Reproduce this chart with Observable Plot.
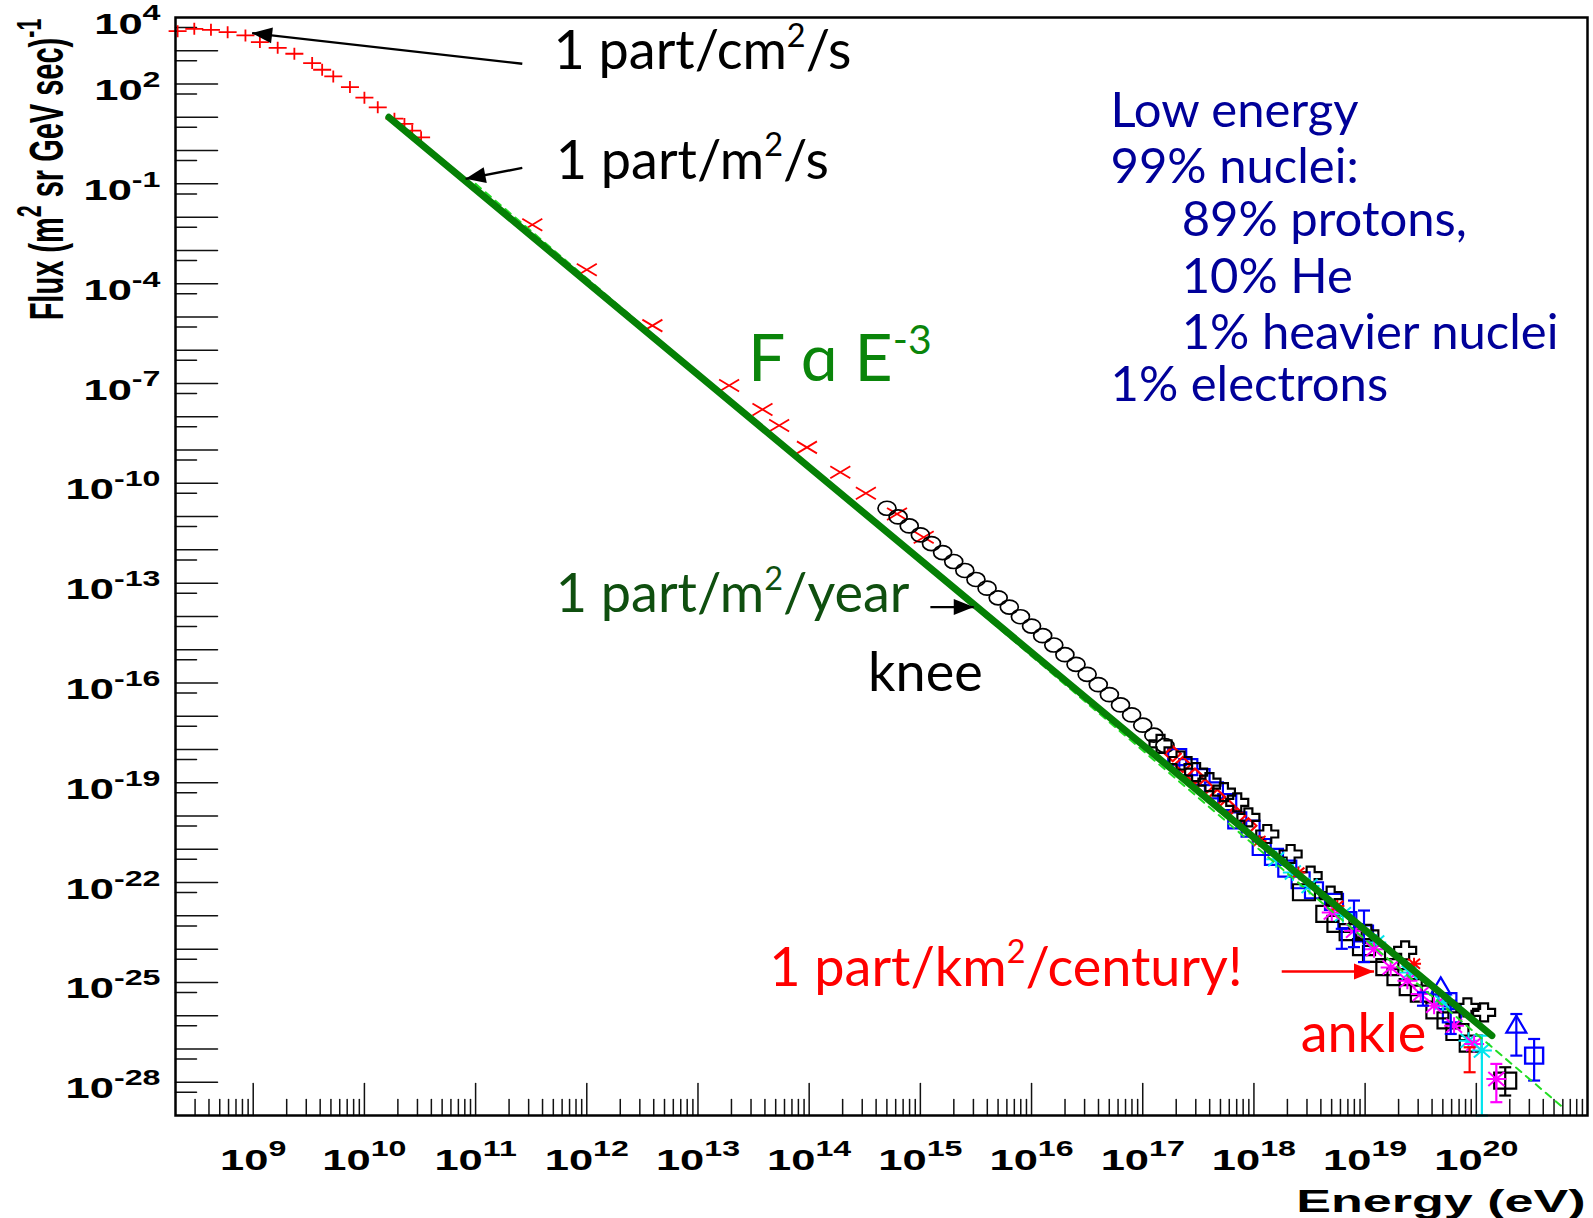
<!DOCTYPE html>
<html><head><meta charset="utf-8">
<script src="https://cdn.jsdelivr.net/npm/d3@7"></script>
<script src="https://cdn.jsdelivr.net/npm/@observablehq/plot@0.6"></script>
<style>html,body{margin:0;padding:0;background:#fff;} svg{display:block}</style>
</head><body>
<script>
// ===== DATA (log10 energy in eV, log10 flux in m^-2 sr^-1 GeV^-1 s^-1) =====
const plusLogE = [8.32, 8.47, 8.62, 8.77, 8.93, 9.06, 9.22, 9.37, 9.53, 9.62, 9.72, 9.87, 10.00, 10.12, 10.27, 10.36, 10.43, 10.51];
const plusLogF = [3.59, 3.66, 3.63, 3.56, 3.46, 3.26, 3.09, 2.91, 2.63, 2.43, 2.23, 1.91, 1.59, 1.30, 0.96, 0.80, 0.60, 0.40];

const timesLogE = [11.51, 12.00, 12.59, 13.28, 13.58, 13.73, 13.98, 14.28, 14.51, 14.79, 15.03];
const timesLogF = [-2.23, -3.58, -5.26, -7.06, -7.78, -8.26, -8.92, -9.67, -10.30, -10.92, -11.62];

const circleLogE = [14.7, 14.8, 14.9, 15.0, 15.1, 15.2, 15.3, 15.4, 15.5, 15.6, 15.7, 15.8, 15.9, 16.0, 16.1, 16.2, 16.3, 16.4, 16.5, 16.6, 16.7, 16.8, 16.9, 17.0, 17.1, 17.2];
const circleLogF = [-10.75, -11.01, -11.28, -11.55, -11.81, -12.08, -12.35, -12.62, -12.89, -13.15, -13.44, -13.72, -14.01, -14.29, -14.58, -14.86, -15.15, -15.44, -15.74, -16.05, -16.35, -16.66, -16.96, -17.27, -17.57, -17.88];

const redSqLogE = [17.27, 17.36, 17.47, 17.56, 17.67, 17.76, 17.85, 17.95];
const redSqLogF = [-18.13, -18.45, -18.80, -19.12, -19.43, -19.71, -19.99, -20.29];

const crossLogE = [17.16, 17.34, 17.48, 17.60, 17.73, 17.85, 17.95, 18.12, 18.33, 18.51, 18.69, 19.02, 19.36, 19.92, 20.07];
const crossLogF = [-17.83, -18.33, -18.68, -18.98, -19.28, -19.59, -20.04, -20.54, -21.14, -21.79, -22.39, -23.54, -24.04, -25.75, -25.90];

const blueSqLogE = [17.31, 17.41, 17.52, 17.64, 17.76, 17.85, 17.97, 18.07, 18.18, 18.30, 18.42, 18.54, 18.72, 18.84, 18.99, 19.74, 19.78];
const blueSqLogF = [-18.23, -18.53, -18.83, -19.23, -19.58, -20.13, -20.38, -20.93, -21.23, -21.58, -21.93, -22.23, -22.58, -23.13, -23.53, -25.56, -25.96];

const blackSqLogE = [18.45, 18.66, 18.76, 18.87, 18.99, 19.08, 19.20, 19.30, 19.41, 19.51, 19.65, 19.75, 19.83, 19.95];
const blackSqLogF = [-22.29, -22.94, -23.24, -23.49, -23.94, -24.14, -24.54, -24.84, -25.14, -25.34, -25.84, -26.14, -26.49, -26.84];

const magLogE = [18.70, 18.90, 19.08, 19.23, 19.38, 19.50, 19.62, 19.80, 19.98];
const magLogF = [-22.90, -23.45, -24.00, -24.55, -24.95, -25.35, -25.70, -26.30, -26.85];

const cyanLogE = [18.20, 18.35, 18.50, 18.80, 19.10, 19.40, 19.70, 19.93];
const cyanLogF = [-21.30, -21.70, -22.10, -22.95, -23.80, -24.70, -25.60, -26.75];

const redPtLogE = [18.05, 18.40, 18.75, 19.44];
const redPtLogF = [-20.75, -21.70, -22.70, -24.44];

const triLogE = [19.68];
const triLogF = [-25.15];

// points with vertical error bars: log10 E, log10 F, low, high
const blueErrBars  = [{e: 18.79, f: -23.68, lo: -23.99, hi: -23.39}, {e: 18.90, f: -23.25, lo: -23.94, hi: -22.54}, {e: 18.99, f: -23.60, lo: -24.39, hi: -22.84}, {e: 19.52, f: -25.48, lo: -25.70, hi: -25.30}, {e: 19.77, f: -26.05, lo: -26.55, hi: -25.55}];
const blueTriErr   = [{e: 20.36, f: -26.30, lo: -27.20, hi: -25.95}];
const blueSqErr    = [{e: 20.52, f: -27.20, lo: -27.95, hi: -26.70}];
const blackSqErr   = [{e: 20.26, f: -27.95, lo: -28.40, hi: -27.55}];
const magErr       = [{e: 20.18, f: -27.90, lo: -28.60, hi: -27.45}];
const cyanErr      = [{e: 20.05, f: -27.05, lo: -29.00, hi: -26.60}];
const redErr       = [{e: 19.94, f: -27.35, lo: -27.70, hi: -26.95}];

// power-law lines (end points)
const e3LogE = [10.22, 20.14];
const e3LogF = [1.00, -26.60];
const fitLogE = [11.00, 20.78];
const fitLogF = [-1.00, -28.76];

// axis tick labels (exponents)
const xTickExps = [9, 10, 11, 12, 13, 14, 15, 16, 17, 18, 19, 20];
const yTickExps = [4, 2, -1, -4, -7, -10, -13, -16, -19, -22, -25, -28];

// annotations (anchor in data units: log10 E, log10 F)
const blackNotes = [
  {text: "1 part/cm^{2}/s", e: 11.70, f: 2.44},
  {text: "1 part/m^{2}/s", e: 11.72, f: -0.84},
  {text: "knee", e: 14.53, f: -16.23}
];
const greenNote = [{text: "F \u0251 E^{-3}", e: 13.45, f: -6.91}];
const darkGreenNote = [{text: "1 part/m^{2}/year", e: 11.72, f: -13.88}];
const redNotes = [
  {text: "1 part/km^{2}/century!", e: 13.64, f: -25.10},
  {text: "ankle", e: 18.42, f: -27.08}
];
const blueLines = ["Low energy", "99% nuclei:", "89% protons,", "10% He", "1% heavier nuclei", "1% electrons"];
const blueLogE = [16.71, 16.71, 17.35, 17.35, 17.35, 16.71];
const blueLogF = [0.72, -0.96, -2.58, -4.27, -5.95, -7.54];
const arrows = [
  {e1: 11.42, f1: 2.61, e2: 8.99, f2: 3.53, color: "black", angle: 186.5},
  {e1: 11.42, f1: -0.52, e2: 10.91, f2: -0.85, color: "black", angle: 169},
  {e1: 15.09, f1: -13.72, e2: 15.48, f2: -13.72, color: "black", angle: 0},
  {e1: 18.25, f1: -24.67, e2: 19.08, f2: -24.67, color: "red", angle: 0}
];

// ===== helpers =====
const P = (E, F) => E.map((e, i) => ({x: 10 ** e, y: 10 ** F[i]}));
const ERR = arr => arr.map(d => ({x: 10 ** d.e, y: 10 ** d.f, lo: 10 ** d.lo, hi: 10 ** d.hi}));
const CAPS = arr => ERR(arr).flatMap(d => [{x: d.x, y: d.lo}, {x: d.x, y: d.hi}]);

const poly = pts => ({draw(c) { c.moveTo(pts[0][0], pts[0][1]); for (const p of pts.slice(1)) c.lineTo(p[0], p[1]); c.closePath(); }});
const segs = list => ({draw(c) { for (const [a, b, p, q] of list) { c.moveTo(a, b); c.lineTo(p, q); } }});
const ellipse = (rx, ry) => ({draw(c) { const k = 0.5523;
  c.moveTo(rx, 0); c.bezierCurveTo(rx, ry * k, rx * k, ry, 0, ry); c.bezierCurveTo(-rx * k, ry, -rx, ry * k, -rx, 0);
  c.bezierCurveTo(-rx, -ry * k, -rx * k, -ry, 0, -ry); c.bezierCurveTo(rx * k, -ry, rx, -ry * k, rx, 0); c.closePath(); }});

const SYM = {
  plus: segs([[-9, 0, 9, 0], [0, -6, 0, 6]]),
  times: segs([[-10, -6, 10, 6], [-10, 6, 10, -6]]),
  circle: ellipse(9, 7),
  rectWide: poly([[-11, -8], [11, -8], [11, 8], [-11, 8]]),
  square: poly([[-9, -8], [9, -8], [9, 8], [-9, 8]]),
  diamond: poly([[0, -7.5], [8, 0], [0, 7.5], [-8, 0]]),
  cross: poly([[-4, -9], [4, -9], [4, -3.5], [11, -3.5], [11, 3.5], [4, 3.5], [4, 9], [-4, 9], [-4, 3.5], [-11, 3.5], [-11, -3.5], [-4, -3.5]]),
  triangle: poly([[0, -10], [10, 7], [-10, 7]]),
  star: segs([[-10, 0, 10, 0], [0, -8.5, 0, 8.5], [-8, -7, 8, 7], [-8, 7, 8, -7]]),
  smallStar: segs([[-7, 0, 7, 0], [0, -6, 0, 6], [-6, -5, 6, 5], [-6, 5, 6, -5]]),
  cap: segs([[-6, 0, 6, 0]]),
  head: poly([[0, 0], [-20, -8], [-20, 8]])
};
const tickLine = {draw(c, l) { c.moveTo(0, 0); c.lineTo(0, -l); }};

const dots = (data, symbol, color, sw = 1.6) => Plot.dot(data, {x: "x", y: "y", symbol, fill: "none", stroke: color, strokeWidth: sw});
const errMarks = (arr, color, sw = 2.2) => [
  Plot.link(ERR(arr), {x1: "x", x2: "x", y1: "lo", y2: "hi", stroke: color, strokeWidth: sw}),
  Plot.dot(CAPS(arr), {x: "x", y: "y", symbol: SYM.cap, fill: "none", stroke: color, strokeWidth: sw})
];

// axis ticks
const yMajor = d3.range(-28, 4).map(k => 10 ** k);
const yMinor = d3.range(-29, 4).map(k => 5 * 10 ** k);
const xMajor = d3.range(9, 21).map(k => 10 ** k);
const xMinor = d3.range(8, 21).flatMap(k => d3.range(2, 10).map(m => m * 10 ** k)).filter(v => v > 2.05e8 && v < 1e21);
const XMIN = 2e8, YMIN = 1e-29;

const ROOTFONT = "'Liberation Sans', Arial, Helvetica, sans-serif";
const NOTEFONT = "Lato, 'Noto Sans', sans-serif";

// text marks, in this order, get post-processed (superscripts, stretch)
const textSpecs = [];
const T = (data, opts, sup, stretch) => { textSpecs.push({sup, stretch}); return Plot.text(data, opts); };

const svg = Plot.plot({
  width: 1593, height: 1218,
  marginLeft: 175, marginRight: 6, marginTop: 17, marginBottom: 103,
  x: {type: "log", domain: [XMIN, 1e21], axis: null},
  y: {type: "log", domain: [YMIN, 1e4], axis: null},
  style: {background: "white", overflow: "visible"},
  marks: [
    // ticks
    Plot.vector(yMajor, {x: () => XMIN, y: d => d, length: 42, rotate: 90, anchor: "start", shape: tickLine, stroke: "#111", strokeWidth: 1.5}),
    Plot.vector(yMinor, {x: () => XMIN, y: d => d, length: 21, rotate: 90, anchor: "start", shape: tickLine, stroke: "#111", strokeWidth: 1.5}),
    Plot.vector(xMajor, {x: d => d, y: () => YMIN, length: 32, rotate: 0, anchor: "start", shape: tickLine, stroke: "#111", strokeWidth: 1.5}),
    Plot.vector(xMinor, {x: d => d, y: () => YMIN, length: 16, rotate: 0, anchor: "start", shape: tickLine, stroke: "#111", strokeWidth: 1.5}),

    // data
    dots(P(plusLogE, plusLogF), SYM.plus, "#ff0000", 1.8),
    dots(P(timesLogE, timesLogF), SYM.times, "#ff0000", 1.8),
    dots(P(circleLogE, circleLogF), SYM.circle, "black", 1.7),
    dots(P(blueSqLogE, blueSqLogF), SYM.square, "#0000ff", 2.2),
    dots(P(redSqLogE, redSqLogF), SYM.diamond, "#ff0000", 2.2),
    dots(P(crossLogE, crossLogF), SYM.cross, "black", 2.2),
    dots(P(blackSqLogE, blackSqLogF), SYM.rectWide, "black", 2.2),
    dots(P(cyanLogE, cyanLogF), SYM.star, "#00e5ee", 2),
    dots(P(magLogE, magLogF), SYM.star, "#ff00ff", 2),
    dots(P(redPtLogE, redPtLogF), SYM.smallStar, "#ff0000", 2),
    dots(P(triLogE, triLogF), SYM.triangle, "#0000ff", 2.2),
    ...errMarks(blueErrBars, "#0000ff"),
    ...errMarks(blueTriErr, "#0000ff"), dots(ERR(blueTriErr), SYM.triangle, "#0000ff", 2.2),
    ...errMarks(blueSqErr, "#0000ff"), dots(ERR(blueSqErr), SYM.square, "#0000ff", 2.4),
    ...errMarks(blackSqErr, "black"), dots(ERR(blackSqErr), SYM.rectWide, "black", 2.2),
    ...errMarks(magErr, "#ff00ff"), dots(ERR(magErr), SYM.star, "#ff00ff", 2),
    ...errMarks(cyanErr, "#00e5ee"), dots(ERR(cyanErr), SYM.star, "#00e5ee", 2),
    ...errMarks(redErr, "#ff0000"),

    // fit lines
    Plot.line(P(fitLogE, fitLogF), {x: "x", y: "y", stroke: "#22dd22", strokeWidth: 2, strokeDasharray: "7,6"}),
    Plot.line(P(e3LogE, e3LogF), {x: "x", y: "y", stroke: "#058005", strokeWidth: 7}),

    // arrows
    Plot.link(arrows, {x1: d => 10 ** d.e1, y1: d => 10 ** d.f1, x2: d => 10 ** d.e2, y2: d => 10 ** d.f2, stroke: d => d.color, strokeWidth: 2.4}),
    Plot.dot(arrows, {x: d => 10 ** d.e2, y: d => 10 ** d.f2, rotate: d => d.angle, symbol: SYM.head, fill: d => d.color, stroke: "none"}),

    // annotations
    T(blackNotes, {x: d => 10 ** d.e, y: d => 10 ** d.f, text: "text", textAnchor: "start", lineAnchor: "bottom", fontSize: 54, fontFamily: NOTEFONT, fill: "black"}, [0.6, 0.42], 1),
    T(greenNote, {x: d => 10 ** d.e, y: d => 10 ** d.f, text: "text", textAnchor: "start", lineAnchor: "bottom", fontSize: 66, fontFamily: NOTEFONT, fill: "#0a850a"}, [0.62, 0.4], 1),
    T(darkGreenNote, {x: d => 10 ** d.e, y: d => 10 ** d.f, text: "text", textAnchor: "start", lineAnchor: "bottom", fontSize: 54, fontFamily: NOTEFONT, fill: "#0f4f0f"}, [0.6, 0.42], 1),
    T(redNotes, {x: d => 10 ** d.e, y: d => 10 ** d.f, text: "text", textAnchor: "start", lineAnchor: "bottom", fontSize: 54, fontFamily: NOTEFONT, fill: "#ff0000"}, [0.6, 0.42], 1),
    T(blueLines, {x: (d, i) => 10 ** blueLogE[i], y: (d, i) => 10 ** blueLogF[i], text: d => d, textAnchor: "start", lineAnchor: "bottom", fontSize: 49, fontFamily: NOTEFONT, fill: "#000099"}, null, 1),

    // axis labels (ROOT style, wide bold)
    T(yTickExps, {x: () => XMIN, y: d => 10 ** d, text: d => `10^{${d}}`, textAnchor: "end", lineAnchor: "bottom", dx: -15, dy: 16, fontSize: 29, fontWeight: "bold", fontFamily: ROOTFONT, fill: "black"}, [0.74, 0.45], 1.5),
    T(xTickExps, {x: d => 10 ** d, y: () => YMIN, text: d => `10^{${d}}`, textAnchor: "middle", lineAnchor: "bottom", dy: 54, fontSize: 29, fontWeight: "bold", fontFamily: ROOTFONT, fill: "black"}, [0.74, 0.45], 1.5),
    T(["Energy (eV)"], {frameAnchor: "bottom-right", textAnchor: "end", lineAnchor: "bottom", dx: -2, dy: 96, fontSize: 31, fontWeight: "bold", fontFamily: ROOTFONT, fill: "black"}, null, 1.68),
    T(["Flux (m^{2} sr GeV sec)^{-1}"], {frameAnchor: "top-left", rotate: -90, textAnchor: "middle", lineAnchor: "bottom", dx: -113, dy: 152, fontSize: 29, fontWeight: "bold", fontFamily: ROOTFONT, fill: "black"}, [0.74, 0.45], 1.65),

    Plot.frame({stroke: "black", strokeWidth: 2.5})
  ]
});

// ---- superscripts and ROOT-like horizontal stretch ----
const NS = "http://www.w3.org/2000/svg";
function supify(el, ratio, raise) {
  const s = el.textContent;
  if (!s.includes("^{")) return;
  el.textContent = "";
  const re = /\^\{([^}]*)\}/g;
  let last = 0, m, raised = false;
  const add = (txt, attrs) => { const t = document.createElementNS(NS, "tspan"); t.textContent = txt; for (const k in attrs) t.setAttribute(k, attrs[k]); el.appendChild(t); return t; };
  while ((m = re.exec(s))) {
    if (m.index > last) { add(s.slice(last, m.index), raised ? {dy: raise + "em"} : {}); raised = false; }
    const t = add(m[1], {dy: (-raise / ratio).toFixed(3) + "em"});
    t.style.fontSize = (ratio * 100) + "%";
    raised = true; last = re.lastIndex;
  }
  if (last < s.length) add(s.slice(last), raised ? {dy: raise + "em"} : {});
}
const textGroups = svg.querySelectorAll('g[aria-label="text"]');
textGroups.forEach((g, k) => {
  const spec = textSpecs[k];
  if (!spec) return;
  g.querySelectorAll("text").forEach(t => {
    if (spec.sup) supify(t, spec.sup[0], spec.sup[1]);
    if (spec.stretch !== 1) {
      const tr = t.getAttribute("transform") || "";
      if (/rotate\(/.test(tr)) t.setAttribute("transform", tr.replace(/\s*rotate\(/, ` scale(${spec.stretch},1) rotate(`));
      else t.setAttribute("transform", `${tr} scale(${spec.stretch},1)`);
    }
  });
});
document.body.appendChild(svg);
</script>
</body></html>
